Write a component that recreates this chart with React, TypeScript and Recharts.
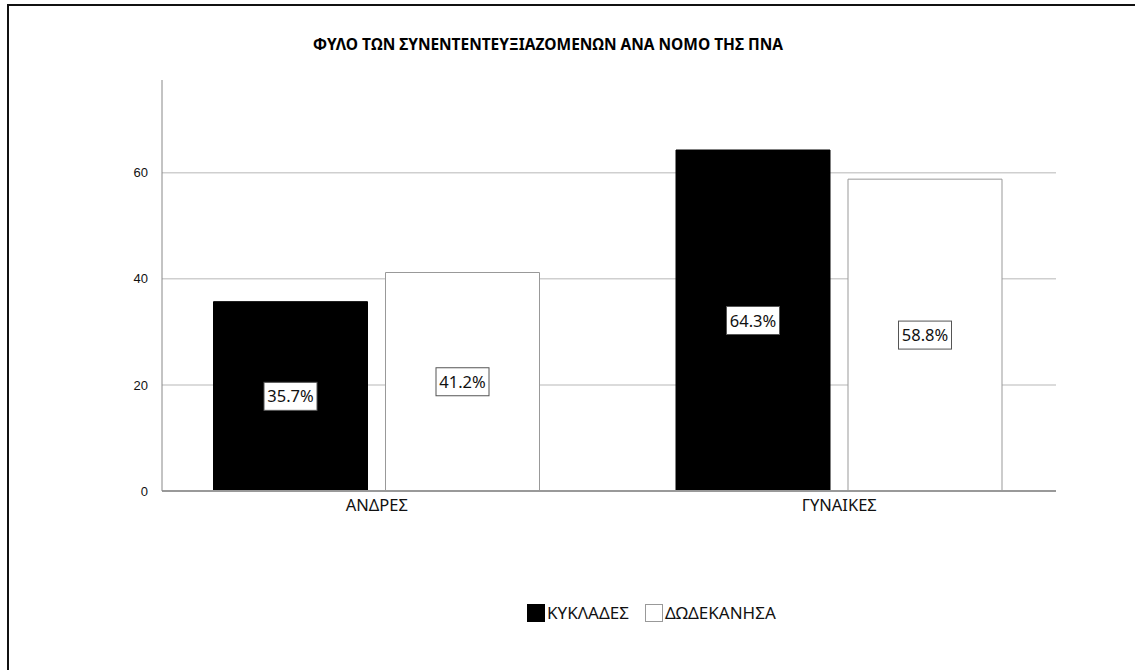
import { BarChart, Bar, XAxis, YAxis, CartesianGrid, LabelList } from 'recharts'

const CATEGORIES = ['ΑΝΔΡΕΣ', 'ΓΥΝΑΙΚΕΣ']
const KYKLADES = [35.7, 64.3]
const DODEKANISA = [41.2, 58.8]
const Y_TICKS = [0, 20, 40, 60]

const TITLE = 'ΦΥΛΟ ΤΩΝ ΣΥΝΕΝΤΕΝΤΕΥΞΙΑΖΟΜΕΝΩΝ ΑΝΑ ΝΟΜΟ ΤΗΣ ΠΝΑ'
const SERIES = [
	{ key: 'kyk', label: 'ΚΥΚΛΑΔΕΣ', fill: '#000', stroke: '#000' },
	{ key: 'dod', label: 'ΔΩΔΕΚΑΝΗΣΑ', fill: '#fff', stroke: '#999' },
]

const data = CATEGORIES.map((name, i) => ({
	name,
	kyk: KYKLADES[i],
	dod: DODEKANISA[i],
}))

const FONT = '"Noto Sans", "Open Sans", sans-serif'

// white box with the percentage, centred in the bar
const renderBoxLabel = (props: any) => {
	const { x, y, width, height, value } = props
	const cx = x + width / 2
	const cy = y + height / 2
	const text = `${Number(value).toFixed(1)}%`
	const w = text.length * 9.6 + 5
	return (
		<g>
			<rect x={cx - w / 2} y={cy - 14} width={w} height={28} fill="#fff" stroke="#555" strokeWidth={1} />
			<text x={cx} y={cy + 6} textAnchor="middle" fontSize={16.5} fontFamily={FONT} fill="#111">
				{text}
			</text>
		</g>
	)
}

export default function App() {
	return (
		<div style={{ position: 'absolute', left: 0, top: 0, width: 1135, height: 670, background: '#fff', overflow: 'hidden' }}>
			<div style={{ position: 'absolute', left: 7, top: 4, width: 1140, height: 680, borderTop: '2px solid #111', borderLeft: '2px solid #111' }} />
			<div style={{ position: 'absolute', left: 0, top: 33, width: 1096, textAlign: 'center', fontFamily: FONT, fontWeight: 'bold', fontSize: 15.5, color: '#000' }}>
				{TITLE}
			</div>
			<div style={{ position: 'absolute', left: 0, top: 0 }}>
				<BarChart
					width={1135}
					height={670}
					data={data}
					margin={{ top: 80, right: 79, left: 0, bottom: 149 }}
					barSize={154}
					barGap={18}
				>
					<CartesianGrid horizontal vertical={false} stroke="#cfcfcf" strokeWidth={1.5} horizontalValues={[20, 40, 60]} />
					<XAxis
						dataKey="name"
						height={30}
						padding={{ left: -16.5, right: -14.5 }}
						axisLine={{ stroke: '#999', strokeWidth: 2 }}
						tickLine={false}
						tick={{ fontSize: 16.5, fontFamily: FONT, fill: '#111' }}
						tickMargin={2}
						interval={0}
					/>
					<YAxis
						width={162}
						domain={[0, 77.5]}
						ticks={Y_TICKS}
						axisLine={{ stroke: '#888', strokeWidth: 1 }}
						tickLine={false}
						tick={{ fontSize: 13, fontFamily: '"Liberation Sans", Arial, sans-serif', fill: '#111' }}
						tickMargin={8}
					/>
					{SERIES.map(s => (
						<Bar key={s.key} dataKey={s.key} name={s.label} fill={s.fill} stroke={s.stroke} isAnimationActive={false}>
							<LabelList dataKey={s.key} content={renderBoxLabel} />
						</Bar>
					))}
				</BarChart>
			</div>
			<div style={{ position: 'absolute', left: 527, top: 601, display: 'flex', gap: 16, fontFamily: FONT, fontSize: 17, color: '#111' }}>
				{SERIES.map(s => (
					<div key={s.key} style={{ display: 'flex', alignItems: 'center', gap: 2 }}>
						<span style={{ width: 18, height: 18, boxSizing: 'border-box', background: s.fill, border: `1px solid ${s.stroke}`, display: 'inline-block' }} />
						<span>{s.label}</span>
					</div>
				))}
			</div>
		</div>
	)
}
